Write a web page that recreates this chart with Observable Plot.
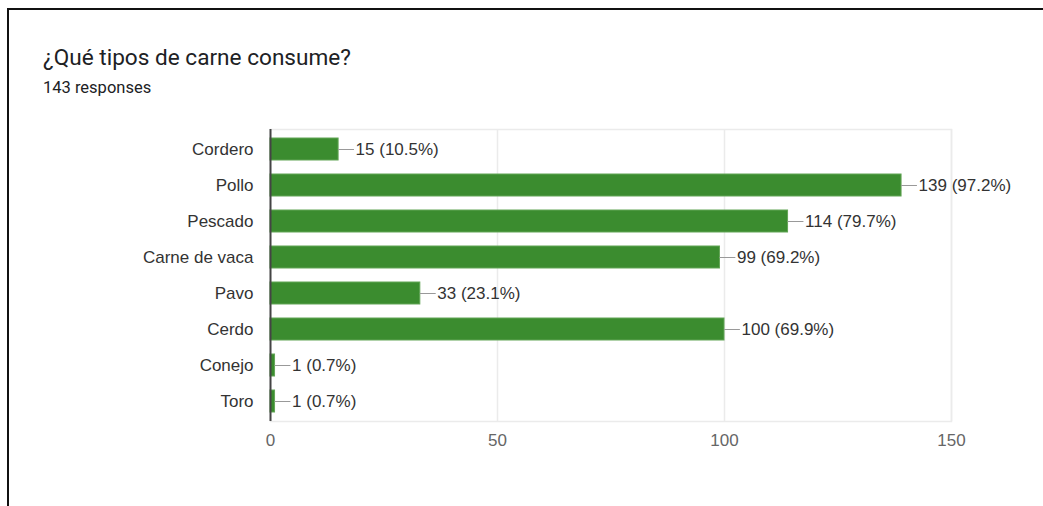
<!DOCTYPE html>
<html>
<head>
<meta charset="utf-8">
<script src="https://cdn.jsdelivr.net/npm/d3@7"></script>
<script src="https://cdn.jsdelivr.net/npm/@observablehq/plot@0.6"></script>
<style>
  html, body { margin: 0; padding: 0; background: #fff; }
  #wrap { position: relative; width: 1043px; height: 506px; overflow: hidden; background: #fff; }
  #border { position: absolute; left: 7px; top: 8px; width: 1040px; height: 510px;
            border-left: 2px solid #111; border-top: 2px solid #111; box-sizing: border-box; }
  #title { position: absolute; left: 43px; top: 44px; font-family: Roboto, "Noto Sans", sans-serif;
           font-size: 22.6px; color: #202124; white-space: nowrap; }
  #sub { position: absolute; left: 43px; top: 78px; font-family: Roboto, "Noto Sans", sans-serif;
         font-size: 16.5px; color: #202124; white-space: nowrap; }
  #chart { position: absolute; left: 0; top: 0; }
</style>
</head>
<body>
<div id="wrap">
  <div id="border"></div>
  <div id="title">¿Qué tipos de carne consume?</div>
  <div id="sub">143 responses</div>
  <div id="chart"></div>
</div>
<script>
const categories = ["Cordero", "Pollo", "Pescado", "Carne de vaca", "Pavo", "Cerdo", "Conejo", "Toro"];
const counts = [15, 139, 114, 99, 33, 100, 1, 1];
const percents = ["10.5%", "97.2%", "79.7%", "69.2%", "23.1%", "69.9%", "0.7%", "0.7%"];
const xTicks = [0, 50, 100, 150];

const data = categories.map((c, i) => ({name: c, value: counts[i], label: `${counts[i]} (${percents[i]})`}));

const font = '"Liberation Sans", Arial, sans-serif';

const chart = Plot.plot({
  width: 1043,
  height: 506,
  marginLeft: 270,
  marginRight: 92,
  marginTop: 129,
  marginBottom: 85,
  style: {fontFamily: font, fontSize: "17px", color: "#333", background: "transparent"},
  x: {domain: [0, 150], ticks: xTicks, label: null},
  y: {domain: categories, paddingInner: 0.4, paddingOuter: 0.2, label: null},
  marks: [
    Plot.frame({stroke: "#ebebeb", strokeWidth: 1.5}),
    Plot.ruleX(xTicks.filter(d => d > 0), {stroke: "#ebebeb", strokeWidth: 1.5}),
    Plot.axisX({ticks: xTicks, tickSize: 0, tickPadding: 12, fill: "#666", fontSize: 17}),
    Plot.axisY({tickSize: 0, tickPadding: 17, fill: "#333", fontSize: 17}),
    Plot.barX(data, {y: "name", x: "value", fill: "#3b8c2f", stroke: "#62a556", strokeWidth: 1}),
    Plot.ruleY(data, {y: "name", x1: "value", x2: d => d.value + 3.5, stroke: "#999", strokeWidth: 1}),
    Plot.text(data, {y: "name", x: "value", text: "label", textAnchor: "start", dx: 17, fill: "#333", fontSize: 17}),
    Plot.ruleX([0], {stroke: "#444", strokeWidth: 2})
  ]
});
document.getElementById("chart").appendChild(chart);
</script>
</body>
</html>
